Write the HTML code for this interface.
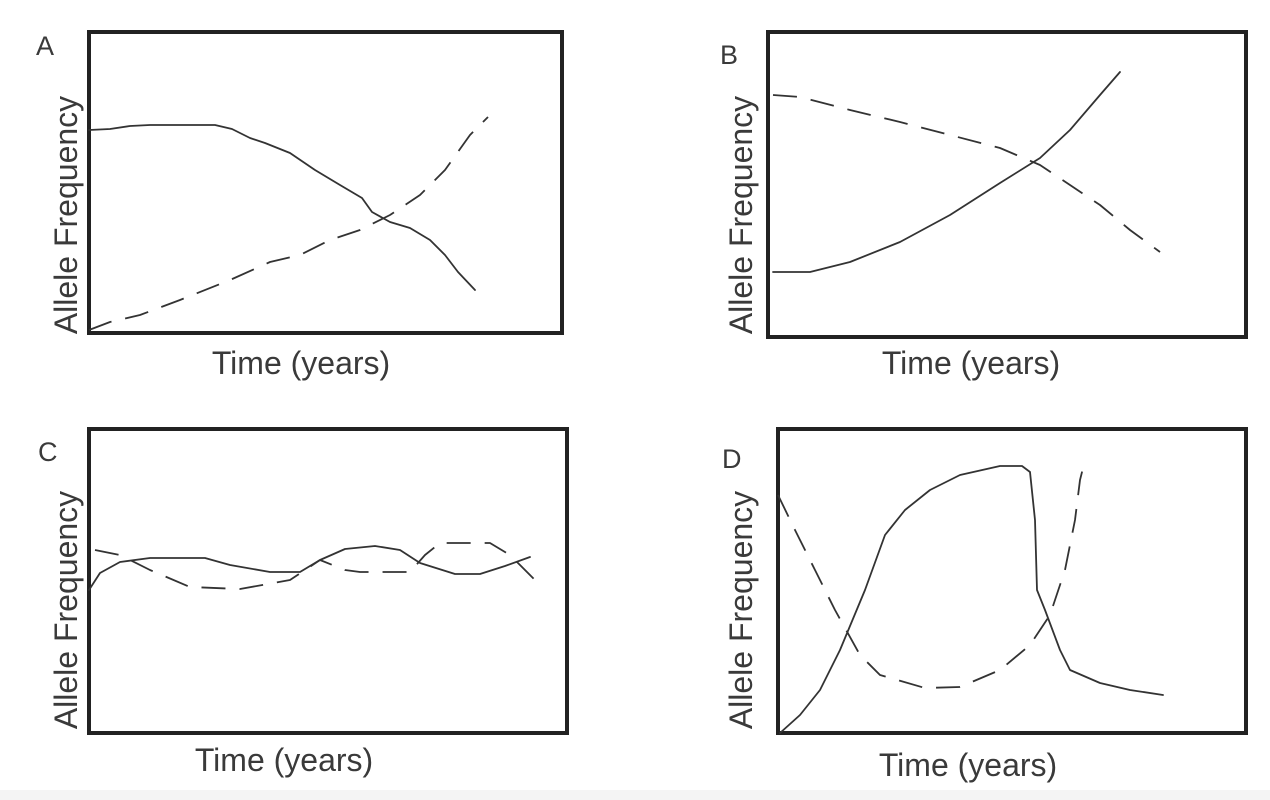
<!DOCTYPE html>
<html><head><meta charset="utf-8"><style>
html,body{margin:0;padding:0;background:#fff;}
svg{display:block;}
text{font-family:"Liberation Sans",sans-serif;fill:#3a3a3a;}
</style></head><body>
<svg width="1270" height="800" viewBox="0 0 1270 800">
<rect x="0" y="790" width="1270" height="10" fill="#f4f4f4"/>
<g fill="none" stroke="#222" stroke-width="4">
<rect x="89" y="32" width="473" height="301"/>
<rect x="768" y="32" width="478" height="305"/>
<rect x="89" y="429" width="478" height="304"/>
<rect x="778" y="429" width="468" height="304"/>
</g>
<g font-size="27">
<text x="36" y="55">A</text>
<text x="720" y="64">B</text>
<text x="38" y="461">C</text>
<text x="722" y="468">D</text>
</g>
<g font-size="32">
<text x="301" y="374" text-anchor="middle">Time (years)</text>
<text x="971" y="374" text-anchor="middle">Time (years)</text>
<text x="284" y="771" text-anchor="middle">Time (years)</text>
<text x="968" y="776" text-anchor="middle">Time (years)</text>
<text transform="translate(77,215) rotate(-90)" text-anchor="middle">Allele Frequency</text>
<text transform="translate(752,215) rotate(-90)" text-anchor="middle">Allele Frequency</text>
<text transform="translate(77,610) rotate(-90)" text-anchor="middle">Allele Frequency</text>
<text transform="translate(752,610) rotate(-90)" text-anchor="middle">Allele Frequency</text>
</g>
<g fill="none" stroke="#333" stroke-width="1.8" stroke-linejoin="round" stroke-linecap="round">
<polyline points="89,130 110,129 130,126 150,125 215,125 232,129 250,138 265,143 290,153 315,170 340,185 362,198 372,212 390,222 410,228 430,240 445,255 458,272 475,290"/>
<polyline points="773,272 810,272 850,262 900,242 950,215 1000,183 1040,158 1070,130 1100,95 1120,72"/>
<polyline points="89,590 100,573 120,562 150,558 205,558 230,565 270,572 300,572 320,560 345,549 375,546 400,550 420,563 455,574 480,574 505,566 530,557"/>
<polyline points="780,733 800,715 820,690 840,650 865,590 885,535 905,510 930,490 960,475 1000,466 1022,466 1030,472 1035,520 1037,590 1045,610 1060,650 1070,670 1100,683 1130,690 1163,695"/>
</g>
<g fill="none" stroke="#333" stroke-width="1.8" stroke-dasharray="24 14" stroke-linejoin="round">
<polyline points="89,330 110,322 140,315 180,300 230,280 270,262 300,255 330,240 360,230 390,215 420,195 445,170 470,135 488,117"/>
<polyline points="773,95 800,97 850,110 900,122 950,135 1000,148 1040,165 1070,185 1100,205 1130,230 1160,252"/>
<polyline points="95,550 120,555 150,570 190,587 240,589 290,580 320,560 345,570 360,572 410,572 425,555 440,543 490,543 510,555 520,565 537,582"/>
<polyline points="778,495 795,530 815,570 835,610 860,655 880,675 925,688 960,687 1000,670 1030,645 1050,615 1065,570 1075,520 1080,480 1085,460"/>
</g>
</svg>
</body></html>
